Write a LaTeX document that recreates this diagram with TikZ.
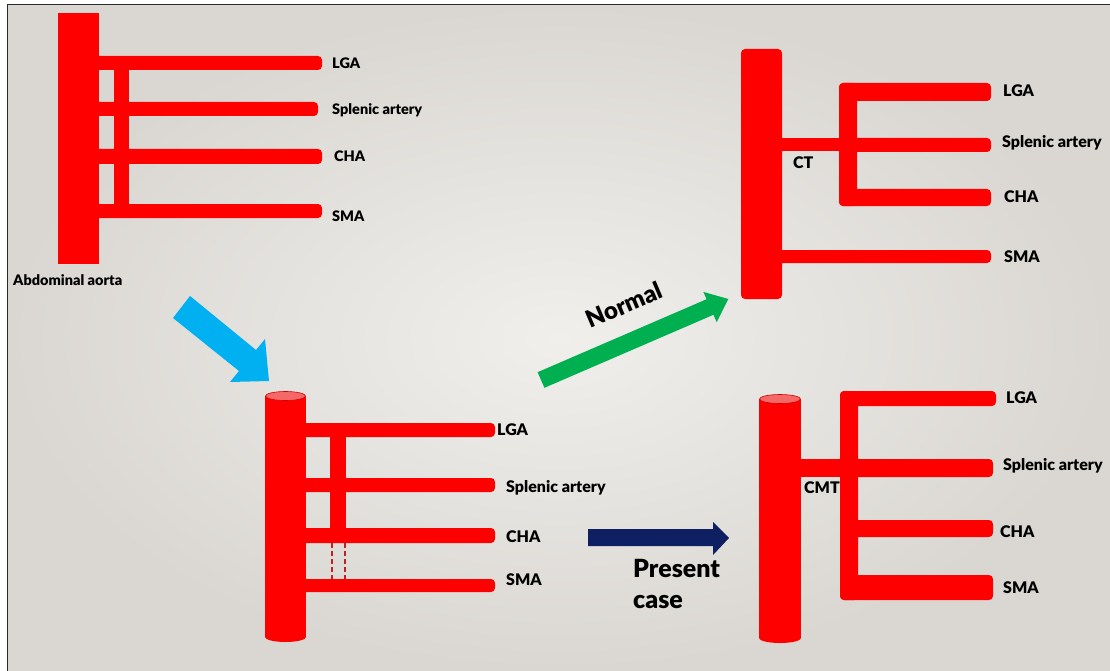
\documentclass[tikz,border=0pt]{standalone}
\usepackage{fontspec}
\setmainfont{Lato}[BoldFont={Lato Black}]
\definecolor{artery}{HTML}{FF0000}
\definecolor{capfill}{HTML}{F46868}
\definecolor{capedge}{HTML}{D40000}
\definecolor{sky}{HTML}{00B0F0}
\definecolor{grass}{HTML}{00B050}
\definecolor{navy}{HTML}{0E2062}
\definecolor{dashred}{HTML}{C02020}
\definecolor{bgin}{HTML}{F0EFEC}
\definecolor{bgout}{HTML}{DAD7D2}
\definecolor{framegray}{HTML}{2A2A2A}
\begin{document}
\begin{tikzpicture}[x=1pt,y=-1pt,
  vessel/.style={fill=artery, rounded corners=4pt},
  trunk/.style={fill=artery},
  lbl/.style={anchor=base west, inner sep=0pt, font=\fontsize{16}{19}\selectfont\bfseries},
  lblsm/.style={lbl, font=\fontsize{14.5}{17}\selectfont\bfseries},
  big/.style={inner sep=0pt, font=\fontsize{25}{30}\selectfont\bfseries},
  bigbase/.style={big, anchor=base west},
  dashline/.style={draw=dashred, line width=1.6pt, dash pattern=on 5pt off 3pt},
  capstyle/.style={fill=capfill, draw=capedge, line width=0.6pt}]

% canvas and frame
\useasboundingbox (0,0) rectangle (1110,671);
\fill[white] (0,0) rectangle (1110,671);
\shade[inner color=bgin, outer color=bgout] (8,5) rectangle (1110,671);
\draw[line width=1.4pt, framegray] (7.5,671) -- (7.5,4.5) -- (1110,4.5);

% ---- abdominal aorta with four separate branches
\fill[trunk] (58,13) rectangle (99,264);
\fill[trunk] (114,60) rectangle (129,210);
\fill[vessel] (90,56) rectangle (322,70);
\fill[vessel] (90,102) rectangle (318,116);
\fill[vessel] (90,149) rectangle (322,164);
\fill[vessel] (90,204) rectangle (322,218);
\node[lblsm] (a-lga) at (332,69) {LGA};
\node[lblsm] (a-spl) at (332,115) {Splenic artery};
\node[lblsm] (a-cha) at (334,162) {CHA};
\node[lblsm] (a-sma) at (332,221) {SMA};
\node[lblsm] (a-aorta) at (13,285) {Abdominal aorta};

% ---- intermediate stage (cylinder aorta)
\fill[trunk] (265,396) rectangle (306,637);
\fill[trunk] (285.5,637) ellipse [x radius=20.5pt, y radius=5pt];
\fill[trunk] (330,430) rectangle (346,535);
\fill[vessel] (300,423) rectangle (495,437);
\fill[vessel] (300,478) rectangle (495,492);
\fill[vessel] (300,528) rectangle (495,543);
\fill[vessel] (300,579) rectangle (495,592);
\path[capstyle] (285.5,396) ellipse [x radius=20pt, y radius=4.5pt];
\draw[dashline] (332,543) -- (332,579);
\draw[dashline] (345,543) -- (345,579);
\node[lbl] (b-lga) at (497,435) {LGA};
\node[lbl] (b-spl) at (506,492) {Splenic artery};
\node[lbl] (b-cha) at (506,542) {CHA};
\node[lbl] (b-sma) at (506,585) {SMA};

% ---- normal: coeliac trunk + separate SMA
\fill[vessel] (741,49) rectangle (782,299);
\fill[trunk] (778,138) rectangle (845,151);
\fill[vessel] (839,83) rectangle (857,206);
\fill[vessel] (839,83) rectangle (991,101);
\fill[vessel] (850,138) rectangle (991,152);
\fill[vessel] (839,189) rectangle (991,206);
\fill[vessel] (775,250) rectangle (991,263);
\node[lbl] (c-ct) at (793,168) {CT};
\node[lbl] (c-lga) at (1003,97) {LGA};
\node[lbl] (c-spl) at (1002,148) {Splenic artery};
\node[lbl] (c-cha) at (1004,202) {CHA};
\node[lbl] (c-sma) at (1004,262) {SMA};

% ---- present case: coeliacomesenteric trunk
\fill[trunk] (759,399) rectangle (801,638);
\fill[trunk] (780,638) ellipse [x radius=21pt, y radius=5pt];
\fill[trunk] (797,459) rectangle (845,477);
\fill[vessel] (840,391) rectangle (858,600);
\fill[vessel] (840,391) rectangle (996,406);
\fill[vessel] (850,459) rectangle (993,477);
\fill[vessel] (850,520) rectangle (993,537);
\fill[vessel] (840,575) rectangle (993,600);
\path[capstyle] (780,399) ellipse [x radius=20.5pt, y radius=4.5pt];
\node[lbl] (d-cmt) at (804,493) {CMT};
\node[lbl] (d-lga) at (1006,403) {LGA};
\node[lbl] (d-spl) at (1003,470) {Splenic artery};
\node[lbl] (d-cha) at (1000,537) {CHA};
\node[lbl] (d-sma) at (1003,593) {SMA};

% ---- block arrows
\fill[sky] (190,296) -- (256,350) -- (265,339) -- (269,381) -- (230,382)
  -- (239,371) -- (173,318) -- cycle;
\fill[grass] (537.6,372.2) -- (706.6,299.2) -- (703.3,291.9) -- (728.3,299)
  -- (716.7,322.1) -- (713.4,314.8) -- (544.4,387.8) -- cycle;
\fill[navy] (588,529) -- (713,529) -- (713,522) -- (729,538) -- (713,555)
  -- (713,546) -- (588,546) -- cycle;
\node[big, rotate=23, font=\fontsize{24}{29}\selectfont\bfseries] (normal) at (624,305) {Normal};
\node[bigbase] (present) at (633,577) {Present};
\node[bigbase] (case) at (633,608) {case};
\end{tikzpicture}
\end{document}
